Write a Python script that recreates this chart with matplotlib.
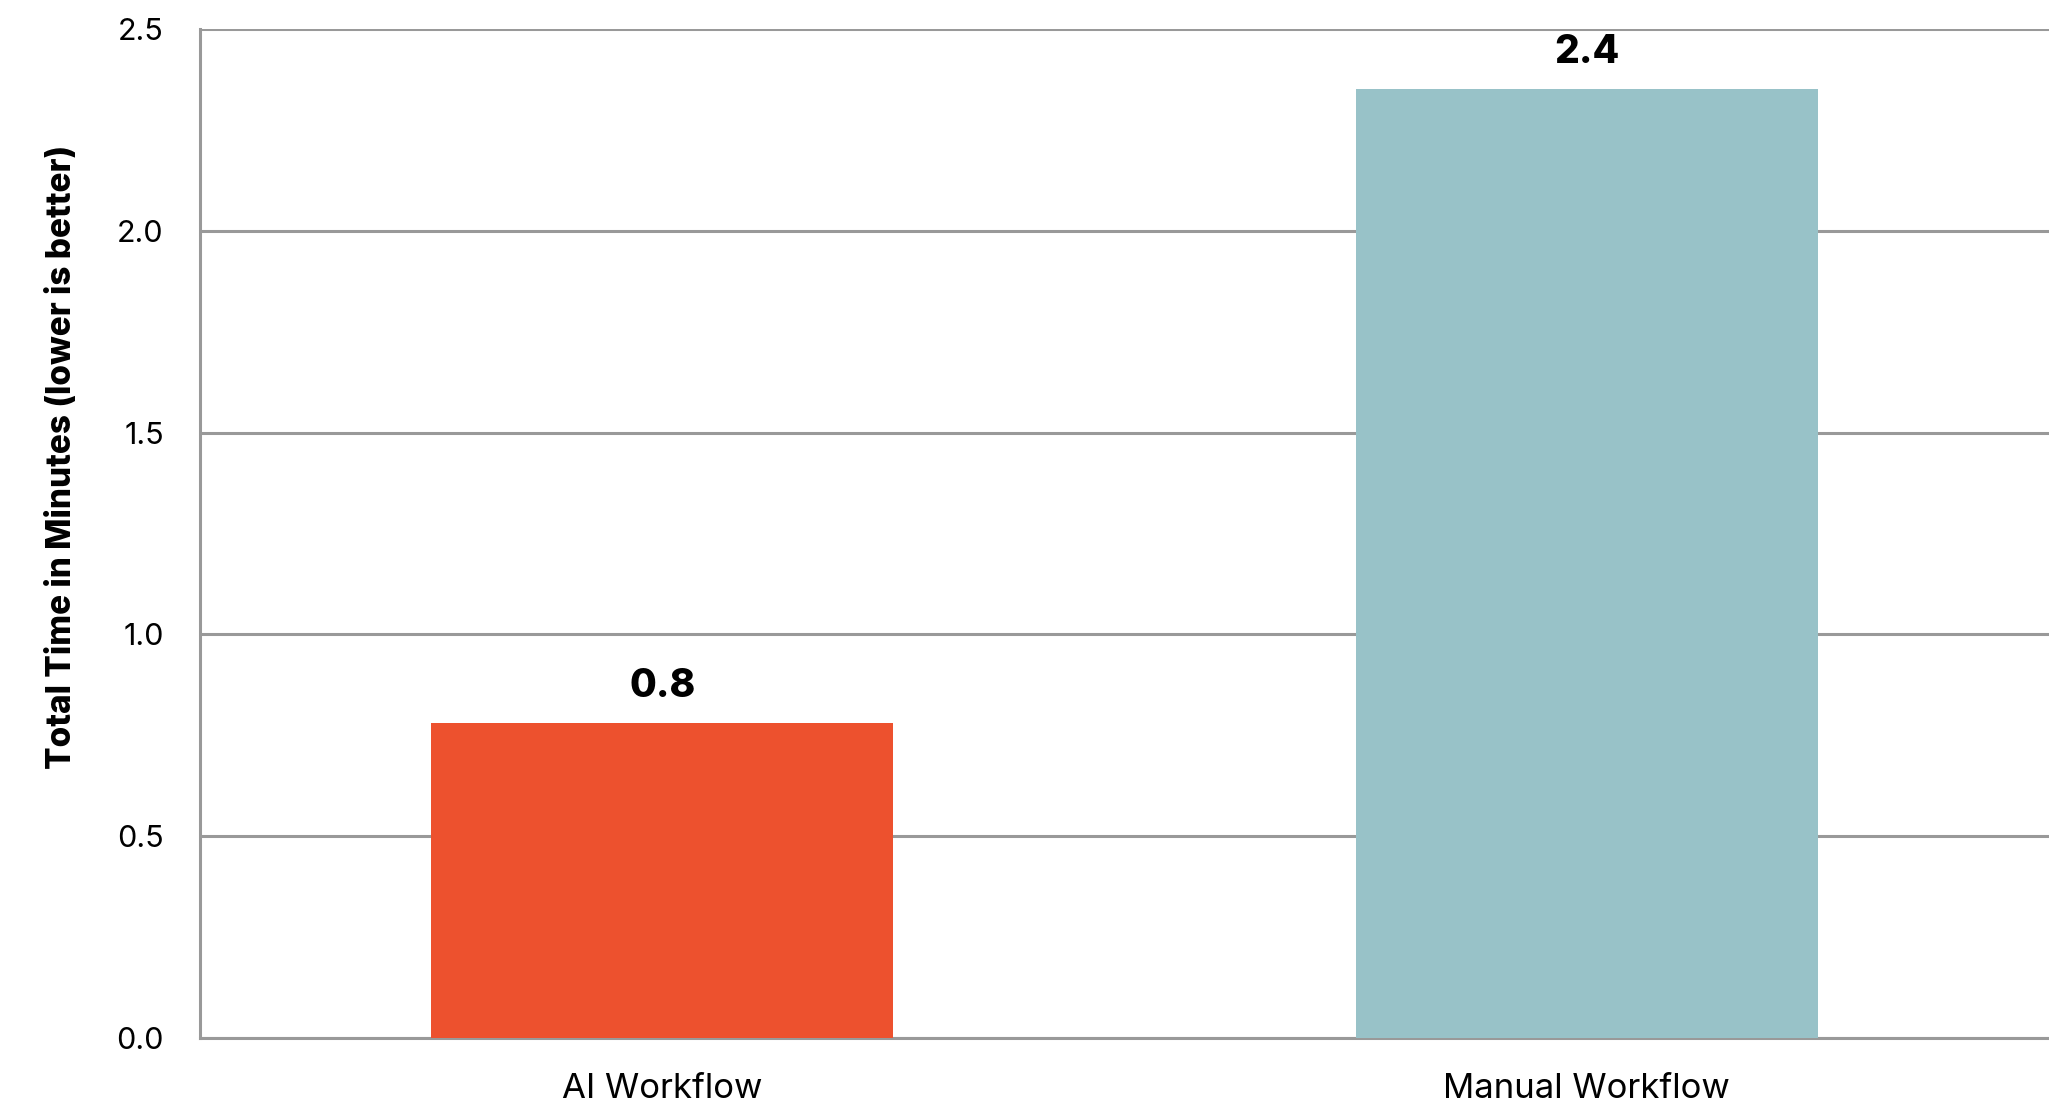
import matplotlib.pyplot as plt

# Workflow timing comparison
workflows = ["AI Workflow", "Manual Workflow"]
minutes = [0.78, 2.35]
bar_colors = ["#ED512E", "#98C2C8"]
y_ticks = [0.0, 0.5, 1.0, 1.5, 2.0, 2.5]

plt.rcParams['font.family'] = ['Inter', 'DejaVu Sans']

fig = plt.figure(figsize=(20.49, 11.08), dpi=100)
ax = fig.add_axes([0.0976, 0.0632, 0.9024, 0.9107])

x = range(len(workflows))
bars = ax.bar(x, minutes, width=0.5, color=bar_colors, zorder=3)

# value labels above each bar
for rect, val in zip(bars, minutes):
    ax.annotate(f"{val:.1f}", (rect.get_x() + rect.get_width() / 2, val),
                xytext=(0, 13), textcoords='offset points',
                ha='center', va='bottom', fontsize=28, fontweight='heavy')

ax.set_xlim(-0.5, 1.5)
ax.set_ylim(0, 2.5)
ax.set_xticks(list(x))
ax.set_xticklabels(workflows)
ax.set_yticks(y_ticks)
ax.set_yticklabels([f"{t:.1f}" for t in y_ticks])
ax.tick_params(axis='both', length=0)
ax.tick_params(axis='y', pad=26, labelsize=22)
ax.tick_params(axis='x', pad=25, labelsize=25)

ax.yaxis.grid(True, color='#999999', linewidth=2.2, zorder=0)
ax.set_axisbelow(True)
for side in ['top', 'right']:
    ax.spines[side].set_visible(False)
for side in ['left', 'bottom']:
    ax.spines[side].set_color('#999999')
    ax.spines[side].set_linewidth(2.2)

ax.set_ylabel("Total Time in Minutes (lower is better)", fontsize=24,
              fontweight='heavy')
ax.yaxis.set_label_coords(-0.066, 0.576)

fig.savefig("out.png", dpi=100)
